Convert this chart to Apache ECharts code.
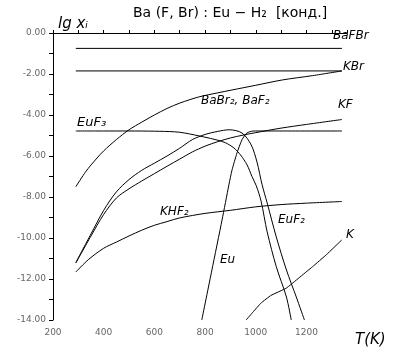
<!DOCTYPE html>
<html>
<head>
<meta charset="utf-8">
<script src="https://cdn.jsdelivr.net/npm/echarts@6/dist/echarts.min.js"></script>
<style>html,body{margin:0;padding:0;background:#fff}#c{width:400px;height:357px}</style>
</head>
<body>
<div id="c"></div>
<script>
// Temperatures (K) and lg x_i values
const T_BaFBr = [290, 1340];
const lg_BaFBr = [-0.75, -0.75];

const T_KBr = [290, 1340];
const lg_KBr = [-1.85, -1.85];

const T_BaBr2 = [290, 330, 370, 400, 450, 500, 550, 600, 650, 700, 775, 850, 906, 1000, 1105, 1224, 1340];
const lg_BaBr2 = [-7.5, -6.75, -6.15, -5.75, -5.2, -4.72, -4.35, -4.0, -3.68, -3.42, -3.12, -2.92, -2.78, -2.55, -2.29, -2.08, -1.85];

const T_EuF3 = [290, 400, 500, 600, 680, 720, 795, 847, 880, 914, 940, 966, 985, 1002, 1021, 1045, 1081, 1121, 1140];
const lg_EuF3 = [-4.78, -4.78, -4.78, -4.79, -4.82, -4.88, -5.07, -5.22, -5.35, -5.61, -5.95, -6.44, -7.0, -7.45, -8.2, -9.7, -11.4, -12.88, -14];

const T_EuF2 = [290, 350, 400, 450, 500, 550, 600, 650, 700, 750, 800, 850, 895, 946, 982, 1005, 1025, 1045, 1081, 1121, 1160, 1192];
const lg_EuF2 = [-11.2, -9.8, -8.65, -7.75, -7.15, -6.7, -6.35, -6.0, -5.62, -5.2, -4.95, -4.8, -4.72, -4.88, -5.46, -6.3, -7.4, -8.29, -9.95, -11.56, -12.88, -14];

const T_KF = [290, 350, 400, 450, 500, 550, 600, 650, 700, 750, 800, 850, 900, 950, 1000, 1100, 1200, 1340];
const lg_KF = [-11.22, -9.9, -8.85, -8.05, -7.6, -7.22, -6.86, -6.5, -6.15, -5.8, -5.52, -5.3, -5.12, -4.98, -4.86, -4.64, -4.46, -4.22];

const T_KHF2 = [290, 340, 400, 450, 500, 550, 600, 650, 700, 800, 900, 1000, 1100, 1200, 1340];
const lg_KHF2 = [-11.66, -11.05, -10.5, -10.2, -9.9, -9.62, -9.38, -9.2, -9.02, -8.8, -8.65, -8.48, -8.37, -8.3, -8.22];

const T_Eu = [787, 827, 867, 894, 906, 926, 946, 965, 990, 1100, 1340];
const lg_Eu = [-14, -11.56, -9.12, -7.41, -6.7, -5.85, -5.2, -4.88, -4.78, -4.78, -4.78];

const T_K = [962, 990, 1021, 1060, 1120, 1170, 1224, 1280, 1339];
const lg_K = [-14, -13.6, -13.17, -12.8, -12.45, -11.95, -11.4, -10.8, -10.1];

const xTicks = [200, 400, 600, 800, 1000, 1200];
const yTicks = [0, -2, -4, -6, -8, -10, -12, -14];

function pairs(t, v) { return t.map((x, i) => [x, v[i]]); }

const seriesDefs = [
  ['BaFBr', T_BaFBr, lg_BaFBr, 0],
  ['KBr', T_KBr, lg_KBr, 0],
  ['BaBr2, BaF2', T_BaBr2, lg_BaBr2, 0.3],
  ['EuF3', T_EuF3, lg_EuF3, 0.3],
  ['EuF2', T_EuF2, lg_EuF2, 0.3],
  ['KF', T_KF, lg_KF, 0.3],
  ['KHF2', T_KHF2, lg_KHF2, 0.3],
  ['Eu', T_Eu, lg_Eu, 0.2],
  ['K', T_K, lg_K, 0.1]
];

const hand = {fontFamily: 'DejaVu Sans', fontStyle: 'italic', fill: '#000'};
function txt(x, y, s, size, upright) {
  const st = Object.assign({text: s, fontSize: size || 12}, hand);
  if (upright) st.fontStyle = 'normal';
  return {type: 'text', left: x, top: y, style: st};
}

const chart = echarts.init(document.getElementById('c'), null, {renderer: 'canvas'});
chart.setOption({
  animation: false,
  backgroundColor: '#fff',
  grid: {left: 53, top: 33, width: 294, height: 287, containLabel: false},
  xAxis: {
    type: 'value', min: 200, max: 1360, interval: 200,
    axisLine: {lineStyle: {color: '#000', width: 1}},
    axisTick: {inside: true, length: 3, lineStyle: {color: '#000'}},
    minorTick: {show: true, splitNumber: 2, length: 3, lineStyle: {color: '#000'}},
    splitLine: {show: false},
    axisLabel: {
      color: '#666', fontSize: 9, margin: 8, fontFamily: 'DejaVu Sans',
      showMaxLabel: false,
      formatter: v => (xTicks.indexOf(v) >= 0 ? String(v) : '')
    }
  },
  yAxis: {
    type: 'value', min: -14, max: 0, interval: 2,
    axisLine: {show: true, lineStyle: {color: '#000', width: 1}},
    axisTick: {show: true, inside: false, length: 4, lineStyle: {color: '#000'}},
    minorTick: {show: true, splitNumber: 2, length: 4, lineStyle: {color: '#000'}},
    splitLine: {show: false},
    axisLabel: {
      color: '#666', fontSize: 9, margin: 7, fontFamily: 'DejaVu Sans',
      formatter: v => (yTicks.indexOf(v) >= 0 ? v.toFixed(2) : '')
    }
  },
  series: seriesDefs.map(d => ({
    name: d[0], type: 'line', data: pairs(d[1], d[2]),
    smooth: d[3], showSymbol: false, silent: true,
    lineStyle: {color: '#000', width: 1}
  })),
  graphic: [
    txt(133, 6, 'Ba (F, Br) : Eu − H₂  [конд.]', 14, true),
    txt(58, 17, 'lg xᵢ', 15),
    txt(333, 30, 'BaFBr', 12),
    txt(343, 61, 'KBr', 12),
    txt(201, 95, 'BaBr₂, BaF₂', 12),
    txt(338, 99, 'KF', 12),
    txt(77, 116, 'EuF₃', 13),
    txt(160, 206, 'KHF₂', 12),
    txt(278, 214, 'EuF₂', 12),
    txt(220, 254, 'Eu', 12),
    txt(346, 229, 'K', 12),
    txt(355, 333, 'T(K)', 15)
  ]
});
</script>
</body>
</html>
